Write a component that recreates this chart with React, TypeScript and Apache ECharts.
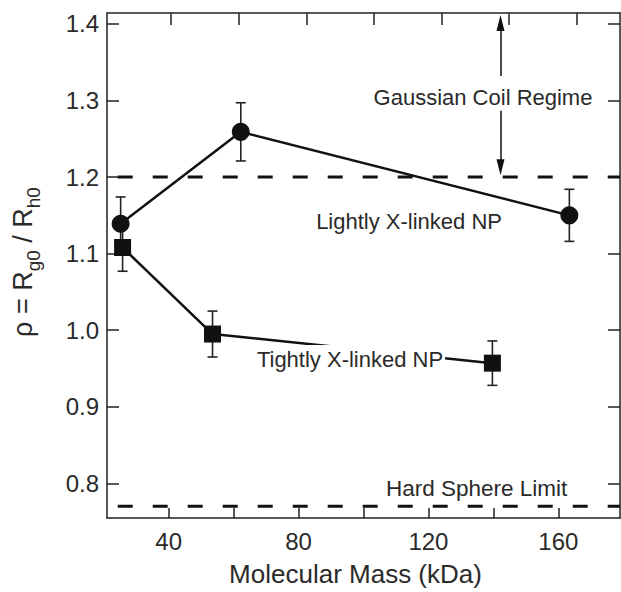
import React, { useEffect, useRef } from "react";
import * as echarts from "echarts";

// ---- data ----
const lightlyX = [25.2, 62.2, 163.4];
const lightlyY = [1.139, 1.259, 1.15];
const lightlyErr = [0.035, 0.038, 0.034];

const tightlyX = [25.8, 53.5, 139.7];
const tightlyY = [1.108, 0.995, 0.957];
const tightlyErr = [0.031, 0.03, 0.029];

const gaussianLimit = 1.2;
const hardSphereLimit = 0.77;
const arrowX = 142.2;

const xTickValues = [40, 60, 80, 100, 120, 140, 160];
const xLabelValues = [40, 80, 120, 160];
const yTickValues = [0.8, 0.9, 1.0, 1.1, 1.2, 1.3, 1.4];

const FONT = "Liberation Sans";
const INK = "#111";
const TEXT = "#2a2a2a";

export default function App() {
  const ref = useRef<HTMLDivElement>(null);
  useEffect(() => {
    if (!ref.current) return;
    const chart = echarts.init(ref.current, undefined, { renderer: "svg" });

    const lightly = lightlyX.map((x, i) => [x, lightlyY[i]]);
    const tightly = tightlyX.map((x, i) => [x, tightlyY[i]]);
    const errs = [
      ...lightlyX.map((x, i) => [x, lightlyY[i], lightlyErr[i]]),
      ...tightlyX.map((x, i) => [x, tightlyY[i], tightlyErr[i]]),
    ];

    const axisLine = { show: true, lineStyle: { color: "#222", width: 1.5 } };
    const tickStyle = { color: "#222", width: 1.5 };
    const xMin = 21, xMax = 179;
    const yMin = 0.7548, yMax = 1.4142;

    chart.setOption({
      animation: false,
      grid: { left: 107, right: 1, top: 13, bottom: 68 },
      xAxis: [
        {
          type: "value",
          position: "bottom",
          min: xMin,
          max: xMax,
          name: "Molecular Mass (kDa)",
          nameLocation: "middle",
          nameGap: 43,
          nameTextStyle: { fontSize: 26, fontFamily: FONT, color: TEXT, padding: [0, 16, 0, 0] },
          axisLine,
          splitLine: { show: false },
          axisTick: { show: true, inside: true, length: 10, lineStyle: tickStyle, customValues: xTickValues },
          axisLabel: { show: true, fontSize: 24, fontFamily: FONT, color: TEXT, margin: 11, customValues: xLabelValues },
        },
        {
          type: "value",
          position: "top",
          min: xMin,
          max: 172.85,
          axisLine,
          splitLine: { show: false },
          axisTick: { show: true, inside: true, length: 12, lineStyle: tickStyle, customValues: xTickValues },
          axisLabel: { show: false },
        },
      ],
      yAxis: [
        {
          type: "value",
          position: "left",
          min: yMin,
          max: yMax,
          axisLine,
          splitLine: { show: false },
          axisTick: { show: true, inside: true, length: 12, lineStyle: tickStyle, customValues: yTickValues },
          axisLabel: {
            show: true,
            fontSize: 24,
            fontFamily: FONT,
            color: TEXT,
            margin: 8,
            customValues: yTickValues,
            formatter: (v: number) => v.toFixed(1),
          },
        },
        {
          type: "value",
          position: "right",
          min: yMin,
          max: yMax,
          axisLine,
          splitLine: { show: false },
          axisTick: { show: true, inside: true, length: 12, lineStyle: tickStyle, customValues: yTickValues },
          axisLabel: { show: false },
        },
      ],
      series: [
        {
          type: "line",
          data: [[24.3, gaussianLimit], [xMax, gaussianLimit]],
          symbol: "none",
          lineStyle: { color: INK, width: 3, type: [15, 20] },
          z: 1,
          markLine: {
            silent: true,
            symbol: ["none", "triangle"],
            symbolSize: [8, 16],
            label: { show: false },
            lineStyle: { color: INK, width: 1.5, type: "solid" },
            data: [
              [{ coord: [arrowX, 1.332] }, { coord: [arrowX, 1.4013] }],
              [{ coord: [arrowX, 1.2865] }, { coord: [arrowX, 1.2129] }],
            ],
          },
        },
        {
          type: "line",
          data: [[24.3, hardSphereLimit], [xMax, hardSphereLimit]],
          symbol: "none",
          lineStyle: { color: INK, width: 3, type: [15, 20] },
          z: 1,
        },
        {
          type: "custom",
          data: errs,
          z: 2,
          renderItem: (params: any, api: any) => {
            const x = api.value(0), y = api.value(1), e = api.value(2);
            const top = api.coord([x, y + e]);
            const bot = api.coord([x, y - e]);
            const w = 5;
            const style = { stroke: "#222", lineWidth: 1.6 };
            return {
              type: "group",
              children: [
                { type: "line", shape: { x1: top[0], y1: top[1], x2: bot[0], y2: bot[1] }, style },
                { type: "line", shape: { x1: top[0] - w, y1: top[1], x2: top[0] + w, y2: top[1] }, style },
                { type: "line", shape: { x1: bot[0] - w, y1: bot[1], x2: bot[0] + w, y2: bot[1] }, style },
              ],
            };
          },
        },
        {
          type: "line",
          name: "Lightly X-linked NP",
          data: lightly,
          symbol: "circle",
          symbolSize: 18,
          lineStyle: { color: INK, width: 2.5 },
          itemStyle: { color: INK },
          z: 3,
        },
        {
          type: "line",
          name: "Tightly X-linked NP",
          data: tightly,
          symbol: "rect",
          symbolSize: 17,
          lineStyle: { color: INK, width: 2.5 },
          itemStyle: { color: INK },
          z: 3,
        },
      ],
      graphic: [
        {
          type: "text",
          x: 26,
          y: 262,
          rotation: Math.PI / 2,
          z: 100,
          style: {
            text: "{n|ρ = R}{s|g0}{n| / R}{s|h0}",
            align: "center",
            verticalAlign: "middle",
            fill: TEXT,
            rich: {
              n: { fontSize: 27, fontFamily: FONT, fill: TEXT, lineHeight: 33, verticalAlign: "top" },
              s: { fontSize: 19, fontFamily: FONT, fill: TEXT, lineHeight: 19, verticalAlign: "bottom" },
            },
          },
        },
        {
          type: "text",
          x: 483,
          y: 97,
          z: 100,
          style: { text: "Gaussian Coil Regime", fontSize: 22, fontFamily: FONT, fill: TEXT, align: "center", verticalAlign: "middle" },
        },
        {
          type: "text",
          x: 502,
          y: 221,
          z: 100,
          style: { text: "Lightly X-linked NP", fontSize: 22, fontFamily: FONT, fill: TEXT, align: "right", verticalAlign: "middle" },
        },
        {
          type: "text",
          x: 350,
          y: 359,
          z: 100,
          style: {
            text: "Tightly X-linked NP",
            fontSize: 22,
            fontFamily: FONT,
            fill: TEXT,
            align: "center",
            verticalAlign: "middle",
            backgroundColor: "#fff",
            padding: [3, 2],
          },
        },
        {
          type: "text",
          x: 386,
          y: 488,
          z: 100,
          style: { text: "Hard Sphere Limit", fontSize: 22.5, fontFamily: FONT, fill: TEXT, align: "left", verticalAlign: "middle" },
        },
      ],
    });
    return () => chart.dispose();
  }, []);

  return (
    <div
      ref={ref}
      style={{ position: "absolute", left: 0, top: 0, width: 621, height: 592, background: "#fff" }}
    />
  );
}
